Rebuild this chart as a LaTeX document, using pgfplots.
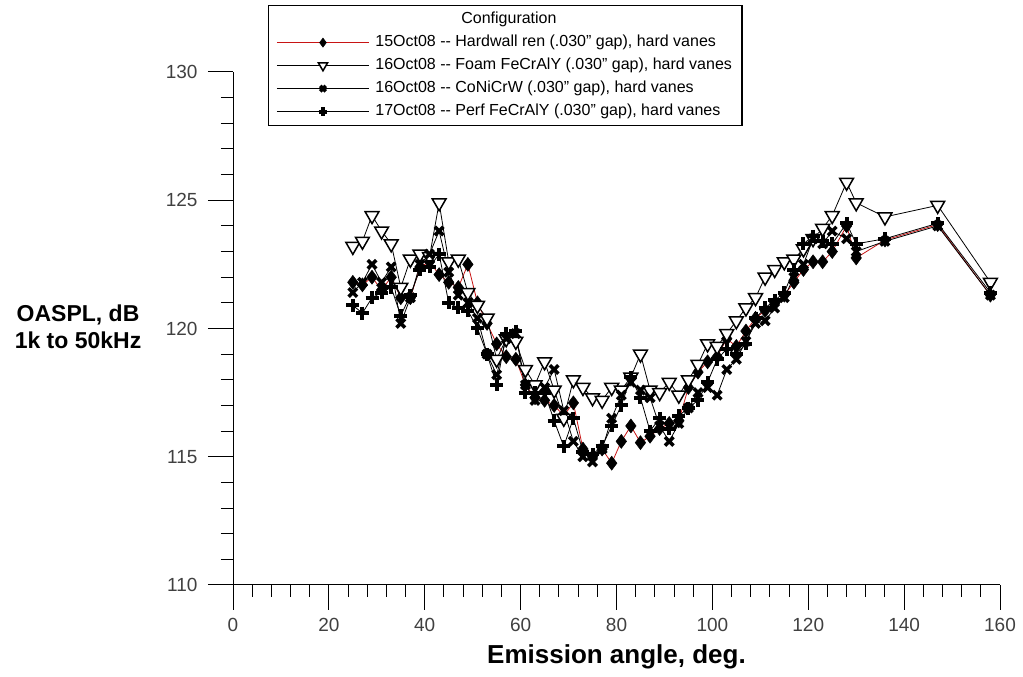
\documentclass[border=0pt]{standalone}
\usepackage{pgfplots}
\pgfplotsset{compat=1.18}
\usepackage{pgfplotstable}
\usepackage{fontspec}
\setmainfont{Liberation Sans}
\definecolor{hwred}{RGB}{200,20,20}
\newcommand{\q}{{\char34}}

\pgfplotstableread{
x y
25 121.8
27 121.7
29 122.0
31 121.5
33 122.0
35 121.2
37 121.2
39 122.4
41 122.6
43 122.1
45 121.8
47 121.6
49 122.5
51 121.0
53 120.2
55 119.4
57 118.9
59 118.8
61 117.8
63 117.3
65 117.2
67 117.0
69 116.6
71 117.1
73 115.3
75 115.0
77 115.3
79 114.75
81 115.6
83 116.2
85 115.55
87 115.8
89 116.1
91 116.3
93 116.4
95 117.7
97 118.3
99 118.7
101 118.9
103 119.6
105 119.3
107 119.9
109 120.4
111 120.7
113 121.0
115 121.3
117 121.8
119 122.3
121 122.6
123 122.6
125 123.0
128 124.0
130 122.75
136 123.45
147 124.05
158 121.3
}\hardwall

\pgfplotstableread{
x y
25 123.2
27 123.4
29 124.4
31 123.8
33 123.3
35 121.6
37 122.7
39 122.9
41 122.8
43 124.9
45 122.6
47 122.7
49 121.4
51 120.9
53 120.4
55 118.8
57 119.6
59 119.5
61 118.4
63 117.8
65 118.7
67 117.6
69 116.5
71 118.0
73 117.7
75 117.3
77 117.2
79 117.7
81 117.6
83 118.1
85 119.0
87 117.6
89 117.5
91 117.9
93 117.4
95 118.0
97 118.6
99 119.4
101 119.3
103 119.8
105 120.3
107 120.8
109 121.2
111 122.0
113 122.3
115 122.6
117 122.7
119 123.1
121 123.5
123 123.9
125 124.4
128 125.7
130 124.9
136 124.35
147 124.8
158 121.8
}\foam

\pgfplotstableread{
x y
25 121.4
27 121.8
29 122.5
31 121.8
33 122.4
35 120.2
37 121.2
39 122.5
41 122.9
43 123.8
45 122.2
47 121.3
49 121.0
51 120.4
53 119.0
55 118.2
57 119.6
59 119.8
61 117.8
63 117.2
65 117.7
67 118.4
69 116.8
71 115.6
73 115.0
75 114.8
77 115.3
79 116.5
81 117.4
83 117.9
85 117.6
87 117.3
89 116.2
91 115.6
93 116.3
95 116.9
97 117.5
99 117.7
101 117.4
103 118.4
105 118.8
107 119.5
109 120.2
111 120.3
113 120.8
115 121.2
117 122.0
119 122.5
121 123.5
123 123.3
125 123.8
128 123.5
130 123.0
136 123.4
147 124.0
158 121.3
}\conicrw

\pgfplotstableread{
x y
25 120.9
27 120.6
29 121.2
31 121.4
33 121.6
35 120.5
37 121.3
39 122.3
41 122.4
43 122.9
45 121.0
47 120.8
49 120.7
51 120.0
53 119.0
55 117.8
57 119.8
59 119.9
61 117.5
63 117.5
65 117.5
67 116.4
69 115.4
71 116.5
73 115.2
75 115.1
77 115.4
79 116.2
81 117.0
83 118.1
85 117.3
87 116.0
89 116.5
91 116.1
93 116.6
95 116.9
97 117.2
99 117.9
101 118.8
103 119.2
105 119.0
107 119.4
109 120.4
111 120.8
113 121.1
115 121.4
117 122.3
119 123.3
121 123.6
123 123.4
125 123.3
128 124.1
130 123.3
136 123.5
147 124.1
158 121.4
}\perf

\begin{document}
\begin{tikzpicture}[x=1pt,y=1pt]
\path[use as bounding box] (0,0) rectangle (1023,677);
\begin{axis}[
  at={(233pt,92pt)}, anchor=south west,
  scale only axis, width=767pt, height=513pt,
  xmin=0, xmax=160, ymin=110, ymax=130,
  axis x line*=bottom, axis y line*=left,
  axis line style={line width=1pt},
  xtick={0,20,...,160}, ytick={110,115,...,130},
  minor x tick num=4, minor y tick num=4,
  tick align=outside,
  major tick length=25pt, minor tick length=12pt,
  tick style={line width=1pt, black},
  /pgf/number format/assume math mode=true,
  tick label style={font=\fontsize{19}{19}\selectfont, text=black!75},
  x tick label style={yshift=-5pt},
  y tick label style={xshift=-7pt},
  xlabel={Emission angle, deg.},
  xlabel style={font=\fontsize{26}{26}\selectfont\bfseries, at={(axis description cs:0.5,-0.14)}, anchor=center},
  ylabel={OASPL, dB\\1k to 50kHz},
  ylabel style={font=\fontsize{23}{27}\selectfont\bfseries, align=center, rotate=-90, at={(axis description cs:-0.202,0.503)}, anchor=center},
  legend style={
    at={(axis description cs:0.0456,1.1306)}, anchor=north west,
    draw=black, line width=1.2pt, fill=white,
    font=\fontsize{16}{18}\selectfont,
    inner xsep=8pt, inner ysep=4pt,
    row sep=3pt, column sep=4pt,
    nodes={inner sep=2pt, text height=12pt, text depth=4pt},
  },
  legend cell align=left,
  legend image post style={every mark/.append style={scale=0.65}},
  legend image code/.code={\draw[mark repeat=2,mark phase=2] plot coordinates {(0pt,0pt) (46pt,0pt) (92pt,0pt)};},
]
\addlegendimage{empty legend}
\addlegendentry{\hspace*{86pt}\makebox[0pt][l]{Configuration}}

\addplot[hwred, line width=0.8pt, mark=diamond*, mark size=7pt, mark options={black, fill=black, line width=0.5pt}] table[x=x,y=y] {\hardwall};
\addlegendentry{15Oct08 -{}- Hardwall ren (.030\q{} gap), hard vanes}

\addplot[black, line width=0.8pt, mark=triangle*, mark size=8pt, mark options={rotate=180, fill=white, draw=black, line width=1.5pt}] table[x=x,y=y] {\foam};
\addlegendentry{16Oct08 -{}- Foam FeCrAlY (.030\q{} gap), hard vanes}

\addplot[black, line width=0.8pt, mark=x, mark size=6pt, mark options={line width=3.5pt}] table[x=x,y=y] {\conicrw};
\addlegendentry{16Oct08 -{}- CoNiCrW (.030\q{} gap), hard vanes}

\addplot[black, line width=0.8pt, mark=+, mark size=6.5pt, mark options={line width=4pt}] table[x=x,y=y] {\perf};
\addlegendentry{17Oct08 -{}- Perf FeCrAlY (.030\q{} gap), hard vanes}
\end{axis}
\end{tikzpicture}
\end{document}
